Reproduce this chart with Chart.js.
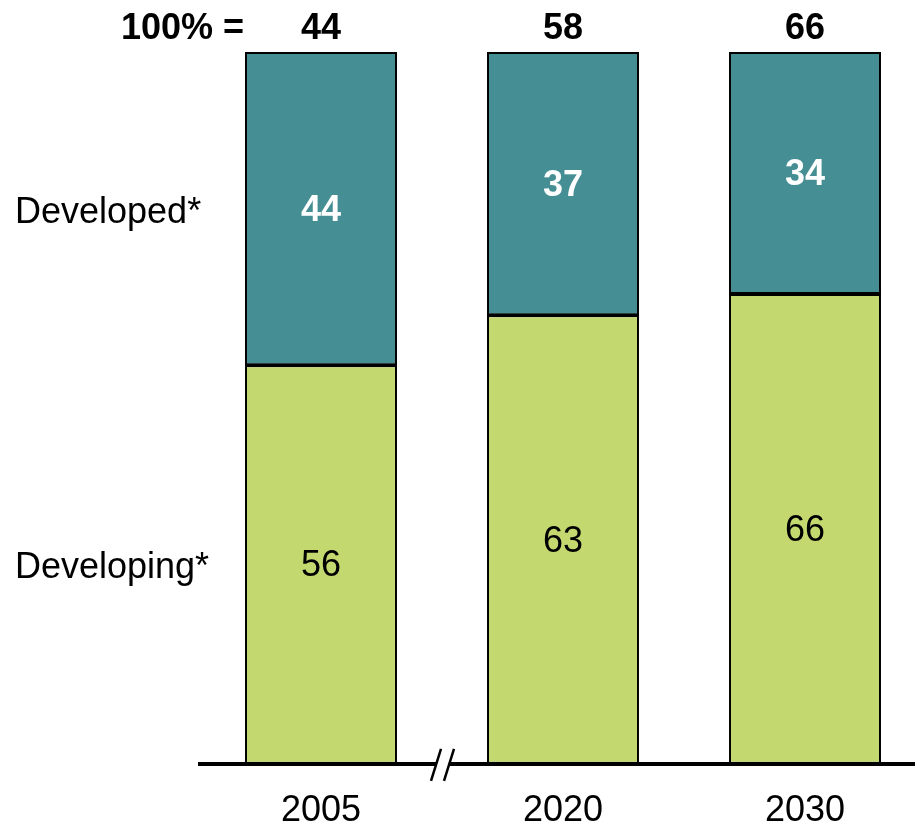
<!DOCTYPE html>
<html>
<head>
<meta charset="utf-8">
<script src="https://cdn.jsdelivr.net/npm/chart.js@4/dist/chart.umd.min.js"></script>
<style>
  html, body { margin: 0; padding: 0; background: #fff; overflow: hidden; }
  #wrap { width: 930px; height: 824px; overflow: hidden; }
</style>
</head>
<body>
<div id="wrap"><canvas id="c" width="930" height="859"></canvas></div>
<script>
// Share of total by region, per year
const years = ['2005', '2020', '2030'];
const developing = [56, 63, 66];
const developed = [44, 37, 34];
const totals = [44, 58, 66];
const seriesNames = ['Developing*', 'Developed*'];

const FONT = "'Liberation Sans', Arial, Helvetica, sans-serif";
const TEAL = '#458E93';
const GREEN = '#C3D970';

// Value labels inside segments, totals row, row names, axis break
const annotate = {
  id: 'annotate',
  afterDraw(chart) {
    const ctx = chart.ctx;
    const x = chart.scales.x;
    const bottom = chart.chartArea.bottom;
    ctx.save();

    // divider between the two stacked segments
    const lower = chart.getDatasetMeta(0);
    ctx.strokeStyle = '#000000';
    ctx.lineWidth = 3;
    lower.data.forEach((bar) => {
      ctx.beginPath();
      ctx.moveTo(bar.x - bar.width / 2, bar.y);
      ctx.lineTo(bar.x + bar.width / 2, bar.y);
      ctx.stroke();
    });

    ctx.textBaseline = 'middle';
    // segment values
    chart.data.datasets.forEach((ds, di) => {
      const meta = chart.getDatasetMeta(di);
      meta.data.forEach((bar, i) => {
        const cy = (bar.y + bar.base) / 2;
        ctx.textAlign = 'center';
        ctx.fillStyle = di === 1 ? '#ffffff' : '#000000';
        ctx.font = (di === 1 ? 'bold ' : '') + '36px ' + FONT;
        ctx.fillText(String(ds.data[i]), bar.x, cy + 2);
        if (i === 0) {
          ctx.textAlign = 'left';
          ctx.fillStyle = '#000000';
          ctx.font = '36px ' + FONT;
          ctx.fillText(seriesNames[di], 15, cy + 4);
        }
      });
    });

    // totals row
    ctx.fillStyle = '#000000';
    ctx.font = 'bold 36px ' + FONT;
    ctx.textAlign = 'center';
    totals.forEach((t, i) => {
      ctx.fillText(String(t), x.getPixelForValue(i), 29);
    });
    ctx.textAlign = 'right';
    ctx.fillText('100% =', 244, 29);

    // axis break between first and second category
    const bx = (x.getPixelForValue(0) + x.getPixelForValue(1)) / 2;
    ctx.fillStyle = '#ffffff';
    ctx.fillRect(bx - 5, bottom - 4, 12, 8);
    ctx.strokeStyle = '#000000';
    ctx.lineWidth = 2.5;
    ctx.beginPath();
    ctx.moveTo(bx - 11, bottom + 17);
    ctx.lineTo(bx - 1, bottom - 15);
    ctx.moveTo(bx + 2, bottom + 17);
    ctx.lineTo(bx + 12, bottom - 15);
    ctx.stroke();
    ctx.restore();
  }
};

new Chart(document.getElementById('c'), {
  type: 'bar',
  data: {
    labels: years,
    datasets: [
      { label: seriesNames[0], data: developing, backgroundColor: GREEN,
        borderColor: '#000000', borderWidth: 2, borderSkipped: false },
      { label: seriesNames[1], data: developed, backgroundColor: TEAL,
        borderColor: '#000000', borderWidth: 2, borderSkipped: false }
    ]
  },
  options: {
    responsive: false,
    animation: false,
    events: [],
    layout: { padding: { left: 200, right: 4, top: 52, bottom: 0 } },
    plugins: { legend: { display: false }, tooltip: { enabled: false } },
    datasets: { bar: { categoryPercentage: 1, barPercentage: 0.628 } },
    scales: {
      x: {
        stacked: true,
        grid: { display: false, drawTicks: false },
        border: { display: true, color: '#000000', width: 4 },
        ticks: { color: '#000000', font: { family: FONT, size: 36 }, padding: 26 }
      },
      y: {
        stacked: true,
        display: false,
        min: 0,
        max: 100
      }
    }
  },
  plugins: [annotate]
});
</script>
</body>
</html>
